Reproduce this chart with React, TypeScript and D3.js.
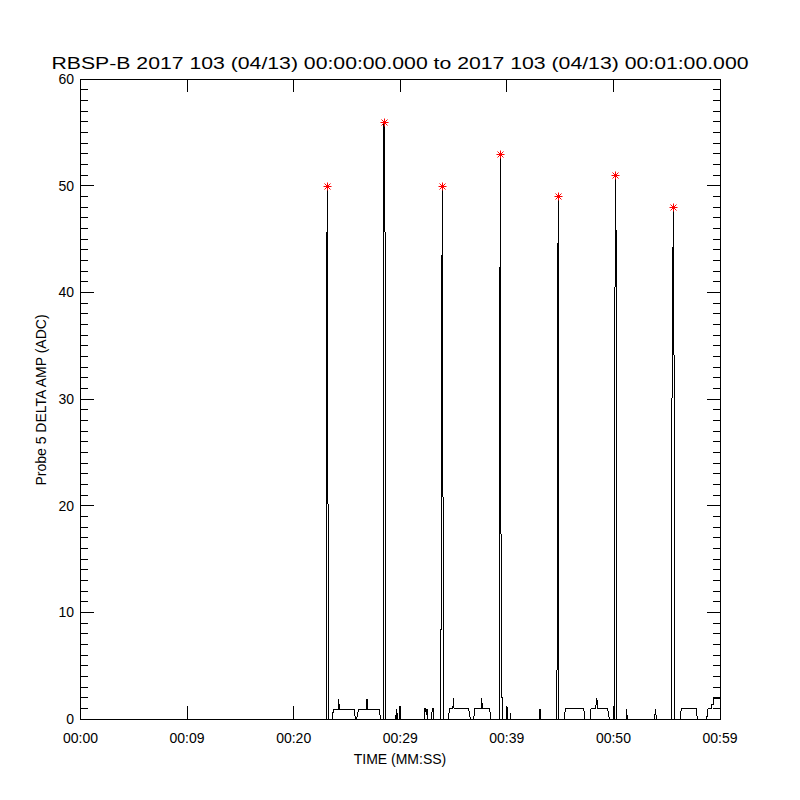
import React from "react";
import * as d3 from "d3";

// trace: seconds from 00:00:00 and probe amplitude (ADC)
const traceTime = [
  0, 23.071, 23.09, 23.146, 23.16, 23.315,
  23.625, 23.718, 24.188, 24.197, 24.225, 24.272, 24.3, 25.689, 25.783,
  25.914, 26.064, 26.833, 26.852, 26.881, 26.927, 26.955, 28.034, 28.166,
  28.44, 28.475, 28.569, 28.58, 28.663,
  29.507, 29.554, 29.601, 29.676, 29.723, 29.939, 29.977, 30.014,
  32.285, 32.304, 32.397, 32.435, 32.51, 32.547, 32.96, 32.988, 33.129, 33.157,
  33.795, 33.83, 33.936, 33.95, 34.105,
  34.48, 34.64, 34.931, 34.949, 34.978, 35.024, 35.053, 36.423, 36.572,
  36.891, 36.985, 37.595, 37.614, 37.642, 37.689, 37.717, 38.392, 38.486,
  39.3, 39.33, 39.387, 39.434, 39.5, 39.612, 39.641,
  40.016, 40.044, 40.082, 40.335, 40.363, 40.391,
  43.056, 43.112, 43.168,
  44.7, 44.72, 44.76, 44.819, 44.866,
  45.392, 45.486, 47.212, 47.334,
  47.803, 47.897, 48.347, 48.366, 48.441, 48.507, 48.535, 49.464, 49.614,
  50.1, 50.12, 50.177, 50.242, 50.271, 50.337,
  51.181, 51.219, 51.274, 51.303, 53.873, 53.93, 53.995, 54.024,
  55.45, 55.5, 55.618, 55.684, 55.712,
  56.247, 56.369, 57.776, 57.87,
  58.752, 58.874, 59.184, 59.202, 59.371, 59.39, 60,
];
const traceAmp = [
  0, 0, 35.5, 50, 33.5, 0,
  0, 0.85, 0.85, 1.1, 1.9, 1.1, 0.85, 0.85, 0,
  0, 0.85, 0.85, 1.1, 1.9, 1.1, 0.85, 0.85, 0,
  0, 56, 48, 21.5, 0,
  0, 0.4, 0, 0.95, 0, 0, 1.2, 0,
  0, 0.95, 0.95, 0.4, 0.95, 0, 0, 0.95, 0.95, 0,
  0, 9.7, 50, 35, 0,
  0, 0.95, 0.95, 1.2, 1.95, 1.2, 0.95, 0.95, 0,
  0, 0.95, 0.95, 1.2, 1.95, 1.2, 0.95, 0.95, 0,
  0, 30, 53, 23.5, 2, 2, 0,
  0, 1.15, 0, 0, 0.6, 0,
  0, 0.95, 0,
  0, 11, 32.5, 49, 0,
  0, 0.95, 0.95, 0,
  0, 0.95, 0.95, 1.35, 1.95, 1.35, 0.95, 0.95, 0,
  0, 28, 51, 48.6, 2.4, 0,
  0, 0.95, 0.4, 0, 0, 0.95, 0.4, 0,
  0, 31, 48, 36, 0,
  0, 0.95, 0.95, 0,
  0, 0.95, 0.95, 1.4, 1.4, 1.9, 1.9,
];

// marked maxima (red asterisks)
const peakTime = [23.146, 28.475, 33.936, 39.387, 44.819, 50.177, 55.618];
const peakAmp = [50, 56, 50, 53, 49, 51, 48];

const xTickValues = [0, 10, 20, 30, 40, 50, 60];
const xTickLabels = ["00:00", "00:09", "00:20", "00:29", "00:39", "00:50", "00:59"];
const yTickValues = [0, 10, 20, 30, 40, 50, 60];
const yMinorValues = d3.range(0, 61, 1).filter((v) => v % 10 !== 0);

const title =
  "RBSP-B 2017 103 (04/13) 00:00:00.000 to 2017 103 (04/13) 00:01:00.000";

const left = 80.5;
const right = 720;
const top = 79;
const bottom = 719;
const major = 13;
const minor = 7;
const font = "'Liberation Sans', Arial, sans-serif";

const App = () => {
  const x = d3.scaleLinear().domain([0, 60]).range([left, right]);
  const y = d3.scaleLinear().domain([0, 60]).range([bottom, top]);

  const line = d3
    .line<number>()
    .x((d, i) => x(traceTime[i]))
    .y((d) => y(d));

  return (
    <svg
      width={800}
      height={800}
      style={{ position: "absolute", left: 0, top: 0, background: "#fff" }}
    >
      <rect x={0} y={0} width={800} height={800} fill="#fff" />
      <text
        x={400}
        y={69}
        textAnchor="middle"
        fontFamily={font}
        fontSize={16}
        textLength={697}
        lengthAdjust="spacingAndGlyphs"
      >
        {title}
      </text>

      <g stroke="#000" strokeWidth={1} shapeRendering="crispEdges" fill="none">
        <rect x={left} y={top} width={right - left} height={bottom - top} />
        {xTickValues.map((v) => (
          <g key={"x" + v}>
            <line x1={x(v)} x2={x(v)} y1={bottom} y2={bottom - major} />
            <line x1={x(v)} x2={x(v)} y1={top} y2={top + major} />
          </g>
        ))}
        {yTickValues.map((v) => (
          <g key={"y" + v}>
            <line x1={left} x2={left + major} y1={y(v)} y2={y(v)} />
            <line x1={right} x2={right - major} y1={y(v)} y2={y(v)} />
          </g>
        ))}
        {yMinorValues.map((v) => (
          <g key={"m" + v}>
            <line x1={left} x2={left + minor} y1={y(v)} y2={y(v)} />
            <line x1={right} x2={right - minor} y1={y(v)} y2={y(v)} />
          </g>
        ))}
        <path d={line(traceAmp) || ""} />
      </g>

      <g stroke="#ff0000" fill="#ff0000" strokeWidth={1}>
        {peakTime.map((t, i) => {
          const cx = Math.round(x(t)) + 0.5;
          const cy = Math.round(y(peakAmp[i])) + 0.5;
          const r = 4;
          const d = 3;
          return (
            <g key={"p" + i}>
              <line x1={cx - r} x2={cx + r} y1={cy} y2={cy} />
              <line x1={cx} x2={cx} y1={cy - r} y2={cy + r} />
              <line x1={cx - d} x2={cx + d} y1={cy - d} y2={cy + d} />
              <line x1={cx - d} x2={cx + d} y1={cy + d} y2={cy - d} />
              <rect x={cx - 1.5} y={cy - 1.5} width={3} height={3} stroke="none" />
            </g>
          );
        })}
      </g>

      <g fontFamily={font} fontSize={14} fill="#000">
        {yTickValues.map((v) => (
          <text key={"yl" + v} x={74} y={y(v) + 5} textAnchor="end">
            {v}
          </text>
        ))}
        {xTickValues.map((v, i) => (
          <text key={"xl" + v} x={x(v)} y={743} textAnchor="middle">
            {xTickLabels[i]}
          </text>
        ))}
        <text x={400} y={764} textAnchor="middle">
          TIME (MM:SS)
        </text>
        <text transform="translate(46,400) rotate(-90)" textAnchor="middle">
          Probe 5 DELTA AMP (ADC)
        </text>
      </g>
    </svg>
  );
};

export default App;
